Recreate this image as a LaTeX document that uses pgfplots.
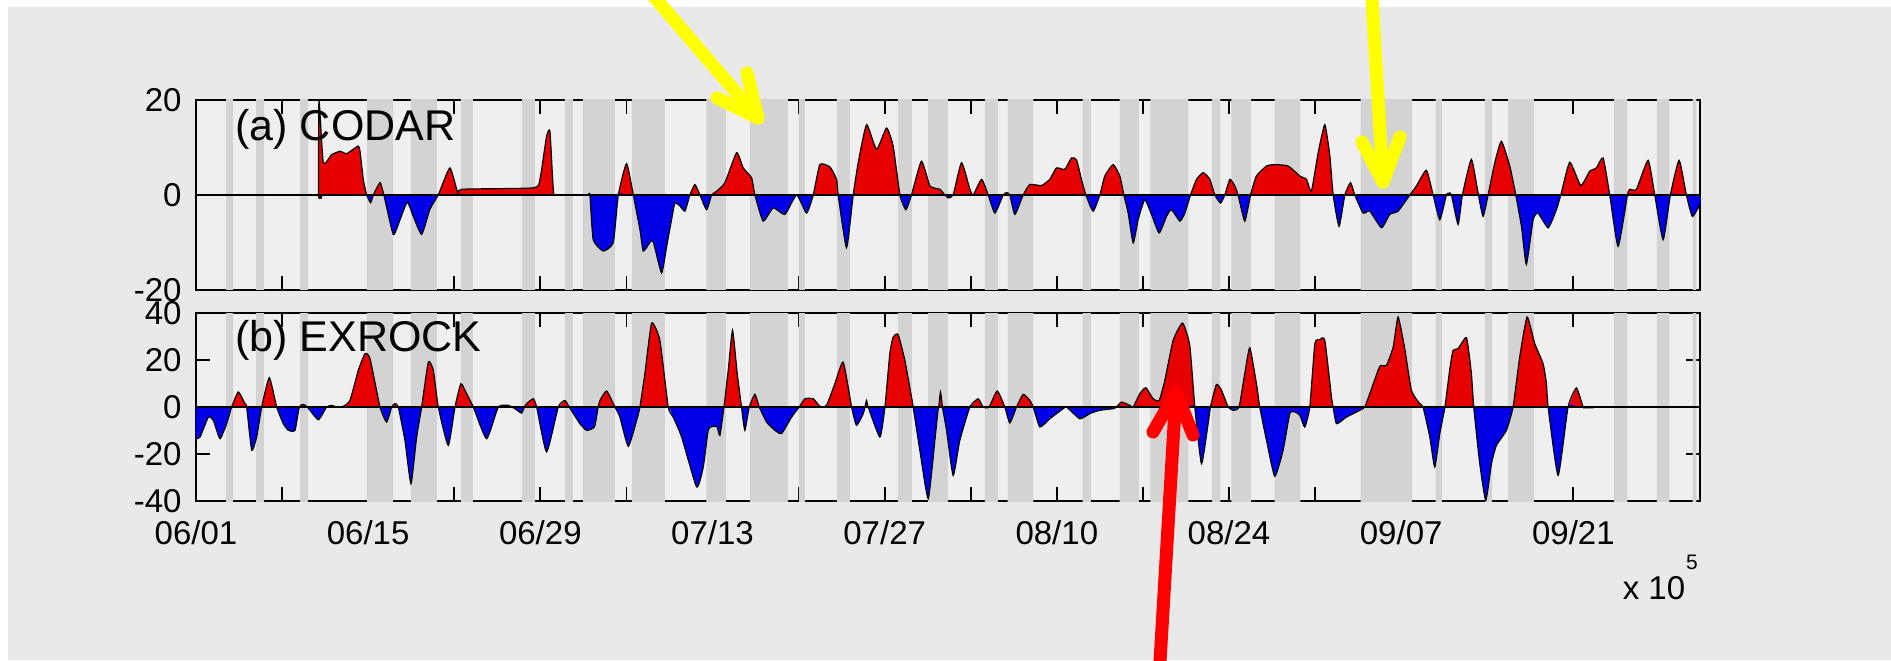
\documentclass[border=0pt]{standalone}
\usepackage{fontspec}
\setmainfont{Liberation Sans}
\usepackage{pgfplots}
\usepackage{pgfplotstable}
\pgfplotsset{compat=1.18}
\definecolor{outerbg}{HTML}{E9E9E9}
\definecolor{axisbg}{HTML}{EFEFEF}
\definecolor{bandgray}{HTML}{D3D3D3}
\definecolor{posred}{HTML}{E60000}
\definecolor{negblue}{HTML}{0000E6}
\definecolor{arrowyellow}{HTML}{FFFF00}
\definecolor{arrowred}{HTML}{FF0000}

\pgfplotstableread{
x y
2.44 -99
2.44 99
3.01 99
3.01 -99
4.88 -99
4.88 99
5.53 99
5.53 -99
8.46 -99
8.46 99
9.11 99
9.11 -99
13.90 -99
13.90 99
16.02 99
16.02 -99
17.48 -99
17.48 99
19.59 99
19.59 -99
21.54 -99
21.54 99
22.52 99
22.52 -99
26.50 -99
26.50 99
27.56 99
27.56 -99
30.00 -99
30.00 99
30.65 99
30.65 -99
31.46 -99
31.46 99
34.07 99
34.07 -99
35.45 -99
35.45 99
38.13 99
38.13 -99
41.50 -99
41.50 99
43.09 99
43.09 -99
45.04 -99
45.04 99
48.13 99
48.13 -99
49.02 -99
49.02 99
49.51 99
49.51 -99
52.11 -99
52.11 99
53.17 99
53.17 -99
57.07 -99
57.07 99
58.21 99
58.21 -99
59.51 -99
59.51 99
61.14 99
61.14 -99
64.15 -99
64.15 99
65.20 99
65.20 -99
66.00 -99
66.00 99
68.10 99
68.10 -99
72.10 -99
72.10 99
72.76 99
72.76 -99
75.10 -99
75.10 99
76.67 99
76.67 -99
77.60 -99
77.60 99
80.70 99
80.70 -99
82.60 -99
82.60 99
83.30 99
83.30 -99
84.20 -99
84.20 99
85.80 99
85.80 -99
87.70 -99
87.70 99
89.80 99
89.80 -99
94.70 -99
94.70 99
98.90 99
98.90 -99
100.80 -99
100.80 99
101.30 99
101.30 -99
104.80 -99
104.80 99
105.40 99
105.40 -99
106.70 -99
106.70 99
108.80 99
108.80 -99
115.30 -99
115.30 99
116.40 99
116.40 -99
118.80 -99
118.80 99
119.80 99
119.80 -99
121.70 -99
121.70 99
122.00 99
122.00 -99
}\bands

\pgfplotstableread{
d v
0 0
9.85 0
9.95 0
10.0 20
10.35 6.8
11.03 8.5
11.71 9.2
12.25 8.7
12.93 9.9
13.2 10.3
13.33 9.3
13.6 3.3
13.88 0
14.2 -1.6
14.42 0
14.96 2.6
15.28 0
16.04 -8.3
16.59 -5.2
17.18 -1.5
17.67 -4.5
18.35 -8.3
19.02 -3.0
19.7 0
20.65 5.7
21.33 0
21.6 1.2
27.43 1.5
27.97 3.3
28.51 12.4
28.78 13.4
29.0 3.3
29.1 0
29.3 0
31.8 0
32.03 0
32.3 -9.4
33.12 -11.8
33.93 -10.0
34.34 0
35.01 6.6
35.56 0
36.10 -7.3
36.37 -11.8
36.91 -10.0
37.18 -9.8
37.86 -16.4
38.27 -10.8
38.67 -5.2
38.94 -1.7
39.35 -2.3
39.76 -3.4
40.16 0
40.57 2.2
40.98 0
41.52 -3.1
41.93 0
42.33 0.8
43.01 2.6
43.96 8.9
44.5 5.7
45.18 3.6
45.45 0
46.12 -5.5
46.94 -2.7
47.89 -4.1
48.84 0
49.65 -3.8
50.19 0
50.73 6.4
51.55 5.9
52.09 3.3
52.22 0
52.9 -11.1
53.44 0
53.85 6.8
54.53 14.8
55.34 9.6
56.15 14.1
56.69 10.3
57.24 0
57.72 -3.1
58.18 0
58.99 7.1
59.68 1.9
60.49 1.2
60.9 0
61.17 -0.6
61.57 0
62.25 6.8
62.93 1.2
63.2 0
63.88 3.3
64.42 0
64.96 -3.8
65.64 0
65.91 0.5
66.18 0
66.59 -4.1
67.26 0
67.8 2.2
68.75 2.0
69.43 3.3
69.97 5.7
70.65 5.4
71.19 7.8
71.6 7.4
72.0 3.3
72.36 0
72.95 -3.4
73.5 0
73.9 4.0
74.58 6.4
75.12 4.0
75.45 0
75.8 -3.8
76.21 -10.1
76.61 -5.2
77.15 -1.0
77.7 -4.1
78.32 -8.0
78.92 -4.5
79.32 -3.1
80.0 -5.5
80.41 -3.8
80.87 0
81.36 3.3
81.9 4.7
82.44 3.3
82.85 0
83.31 -1.7
83.66 0
84.07 3.3
84.47 1.9
84.74 0
85.28 -5.5
85.75 0
86.23 4.0
87.05 6.1
87.72 6.4
88.81 6.1
89.76 4.0
90.3 3.3
90.7 0.8
91.25 8.9
91.79 14.8
92.2 8.2
92.47 0
92.95 -6.6
93.42 0
93.88 2.6
94.23 0
94.9 -3.8
95.45 -3.4
96.4 -6.9
97.07 -4.1
97.75 -3.4
98.7 0
99.24 1.9
100.05 5.2
100.6 0
101.14 -5.2
101.68 0
101.9 0.4
102.09 0
102.63 -6.2
102.98 0
103.71 7.5
104.28 0
104.66 -4.5
105.07 0
105.61 6.8
106.15 11.3
106.83 6.1
107.32 0
107.78 -6.6
108.18 -14.6
108.73 -5.2
109.13 -3.8
109.95 -6.9
110.62 -3.1
110.98 0
111.71 6.9
112.6 2.0
113.33 5.0
113.88 5.7
114.42 7.8
114.96 0
115.64 -10.8
116.4 0
116.59 1.2
117.13 1.2
118.08 7.3
118.62 0
119.3 -9.4
119.89 0
120.6 7.3
121.19 0
121.68 -4.5
122.3 -2.0
}\codar

\pgfplotstableread{
d v
0 -13.5
0.33 -12.8
1.0 -4.3
1.41 -5.7
1.95 -13.5
2.49 -7.1
2.9 0
3.44 6.4
3.98 1.4
4.12 0
4.53 -18.4
4.93 -12.8
5.34 0
5.96 12.5
6.56 0
7.1 -7.1
7.51 -9.9
8.05 -9.9
8.4 0
8.73 1.1
9.05 0
9.95 -5.4
10.62 0
11.03 0.7
11.44 0
11.98 0.3
12.52 2.8
13.2 15.6
13.74 22.7
14.15 20.6
14.96 0
15.5 -6.4
15.91 0
16.18 1.4
16.45 0
16.99 -14.2
17.48 -32.6
17.94 -12.8
18.35 0
18.89 19.1
19.3 15.6
19.7 0
20.51 -16.3
21.06 0
21.54 9.9
22.0 5.7
22.55 0
23.63 -13.5
24.58 0
25.39 0.7
25.66 0
25.93 -0.7
26.48 -2.6
26.7 0
26.88 1.4
27.42 3.5
27.7 0
28.51 -19.1
29.46 0
30.0 2.8
30.35 0
31.22 -7.1
31.76 -9.9
32.4 -8.5
32.7 0
32.85 2.8
33.39 6.8
34.07 0
34.47 -4.3
35.15 -16.7
35.83 -5.7
36.1 0
36.5 14.2
37.05 35.7
37.72 28.4
38.4 0
38.81 -4.3
39.49 -12.8
40.71 -34.0
41.25 -25.5
41.65 -9.9
42.06 -8.2
42.38 -8.5
42.6 -12.1
42.93 0
43.28 15.6
43.63 32.6
44.01 14.2
44.36 0
44.63 -9.9
44.99 0
45.45 5.4
45.8 0
46.4 -6.4
47.07 -9.9
47.62 -11.3
48.43 -4.3
49.05 0
49.51 3.5
50.19 3.5
50.73 0.3
51.27 0.7
51.95 9.9
52.63 19.1
53.31 0
53.71 -7.8
54.26 -2.8
54.4 0
54.53 2.8
54.66 0
55.61 -12.8
56.02 0
56.42 22.7
56.69 29.8
57.1 30.8
57.64 19.9
58.18 4.3
58.32 0
58.86 -18.4
59.54 -39.0
60.08 -14.2
60.35 -0.7
60.4 0
60.54 6.4
60.7 0
61.03 -9.9
61.57 -29.1
62.11 -14.2
62.93 0
63.6 3.5
64.0 0
64.28 -0.3
64.5 0
65.15 6.8
65.77 0
66.18 -6.8
66.72 0
67.26 5.4
67.8 2.8
68.08 0
68.62 -8.5
69.43 -5.0
70.52 -0.7
70.79 0
71.87 -5.0
72.68 -2.8
73.5 -1.4
74.58 -0.7
74.85 0
75.26 2.1
75.94 0.7
76.21 0
76.75 5.7
77.24 8.2
77.83 3.5
78.32 2.8
78.78 11.3
79.46 28.4
80.22 35.7
80.81 26.2
81.22 0
81.76 -24.1
82.3 -7.1
82.49 0
82.98 9.6
83.39 7.1
83.93 0
84.34 -1.4
84.82 0
85.28 14.2
85.69 25.2
86.23 9.9
86.5 0
87.05 -14.2
87.72 -29.5
88.4 -18.4
88.94 -2.8
89.35 -2.1
89.76 -3.5
90.16 -8.5
90.57 0
90.98 26.9
91.38 28.7
91.79 28.4
92.33 4.3
92.47 0
92.74 -7.1
93.55 -4.3
94.64 -1.4
95.04 0
95.45 5.7
96.26 17.3
96.8 17.7
97.35 25.5
97.75 38.3
98.29 24.8
98.83 7.1
99.51 1.4
99.78 0
100.33 -12.8
100.73 -25.5
101.14 -11.3
101.56 0
101.95 16.0
102.22 24.1
102.63 24.8
103.31 29.5
103.71 14.2
103.9 0
104.39 -24.1
104.88 -39.7
105.34 -24.1
105.75 -16.3
106.56 -9.9
107.1 0
107.64 21.3
108.24 38.3
108.86 27.0
109.54 18.4
109.81 10.0
109.95 0
110.76 -29.1
111.57 0
112.25 8.1
112.79 0
112.93 -0.3
113.6 -0.3
113.74 0
113.9 0
122.3 0
}\exrock

\pgfplotsset{
  panel/.style={
    scale only axis,
    width=752pt,
    xmin=0, xmax=122.3,
    xtick={0,7,...,119},
    tick align=inside,
    major tick length=7pt,
    axis background/.style={fill=axisbg},
    axis line style={line width=0.9pt, black},
    every tick/.style={line width=0.9pt, black},
    tick label style={font=\fontsize{16.5}{18}\selectfont},
    yticklabel style={inner sep=0pt, xshift=-7pt},
    xticklabel style={inner sep=0pt, anchor=north, yshift=-9.5pt},
  },
  sm/.style={smooth, tension=0.3},
}

\begin{document}
\begin{tikzpicture}
\fill[white] (0,0) rectangle (945.5pt,330pt);
\fill[outerbg] (4pt,0) rectangle (945.5pt,326.5pt);

% (a) CODAR
\begin{axis}[panel,
  at={(98pt,185pt)}, anchor=south west, height=95pt,
  ymin=-20, ymax=20,
  ytick={-20,0,20}, yticklabels={-20,0,20},
  xticklabels={},
]
\addplot[fill=bandgray, draw=none] table[x=x,y=y] {\bands};
\addplot[sm, fill=posred, draw=none] table[x=d, y expr={max(\thisrow{v},0)}] {\codar} \closedcycle;
\addplot[sm, fill=negblue, draw=none] table[x=d, y expr={min(\thisrow{v},0)}] {\codar} \closedcycle;
\addplot[sm, black, line width=0.6pt] table[x=d, y=v] {\codar};
\addplot[black, line width=0.8pt] coordinates {(0,0) (122.3,0)};
\node[anchor=base west, inner sep=0pt, font=\fontsize{21.5}{24}\selectfont] at (rel axis cs:0.026,0.786) {(a) CODAR};
\end{axis}

% (b) EXROCK
\begin{axis}[panel,
  at={(98pt,79.5pt)}, anchor=south west, height=94pt,
  ymin=-40, ymax=40,
  ytick={-40,-20,0,20,40}, yticklabels={-40,-20,0,20,40},
  xticklabels={06/01,{},06/15,{},06/29,{},07/13,{},07/27,{},08/10,{},08/24,{},09/07,{},09/21,{}},
]
\addplot[fill=bandgray, draw=none] table[x=x,y=y] {\bands};
\addplot[sm, fill=posred, draw=none] table[x=d, y expr={max(\thisrow{v},0)}] {\exrock} \closedcycle;
\addplot[sm, fill=negblue, draw=none] table[x=d, y expr={min(\thisrow{v},0)}] {\exrock} \closedcycle;
\addplot[sm, black, line width=0.6pt] table[x=d, y=v] {\exrock};
\addplot[black, line width=0.8pt] coordinates {(0,0) (122.3,0)};
\node[anchor=base west, inner sep=0pt, font=\fontsize{21.5}{24}\selectfont] at (rel axis cs:0.026,0.794) {(b) EXROCK};
\end{axis}

\node[inner sep=0pt, font=\fontsize{16.5}{18}\selectfont] at (827pt,36pt) {x 10};
\node[inner sep=0pt, font=\fontsize{10.5}{12}\selectfont] at (846pt,49pt) {5};

\begin{scope}
\clip (0,0) rectangle (945.5pt,330pt);
\draw[arrowyellow, line width=6.5pt, line cap=round, line join=round] (325pt,334pt) -- (379pt,271pt);
\draw[arrowyellow, line width=6.5pt, line cap=round, line join=round] (373.5pt,293.5pt) -- (379pt,271pt) -- (358.5pt,281pt);
\draw[arrowyellow, line width=6.5pt, line cap=round, line join=round] (685.8pt,334pt) -- (691.5pt,239pt);
\draw[arrowyellow, line width=6.5pt, line cap=round, line join=round] (681pt,259pt) -- (691.5pt,239pt) -- (700pt,261.5pt);
\draw[arrowred, line width=6.5pt, line cap=round, line join=round] (579.8pt,-4pt) -- (588pt,134pt);
\draw[arrowred, line width=6.5pt, line cap=round, line join=round] (576.5pt,114pt) -- (588pt,134pt) -- (596.5pt,112.5pt);
\end{scope}
\end{tikzpicture}
\end{document}
